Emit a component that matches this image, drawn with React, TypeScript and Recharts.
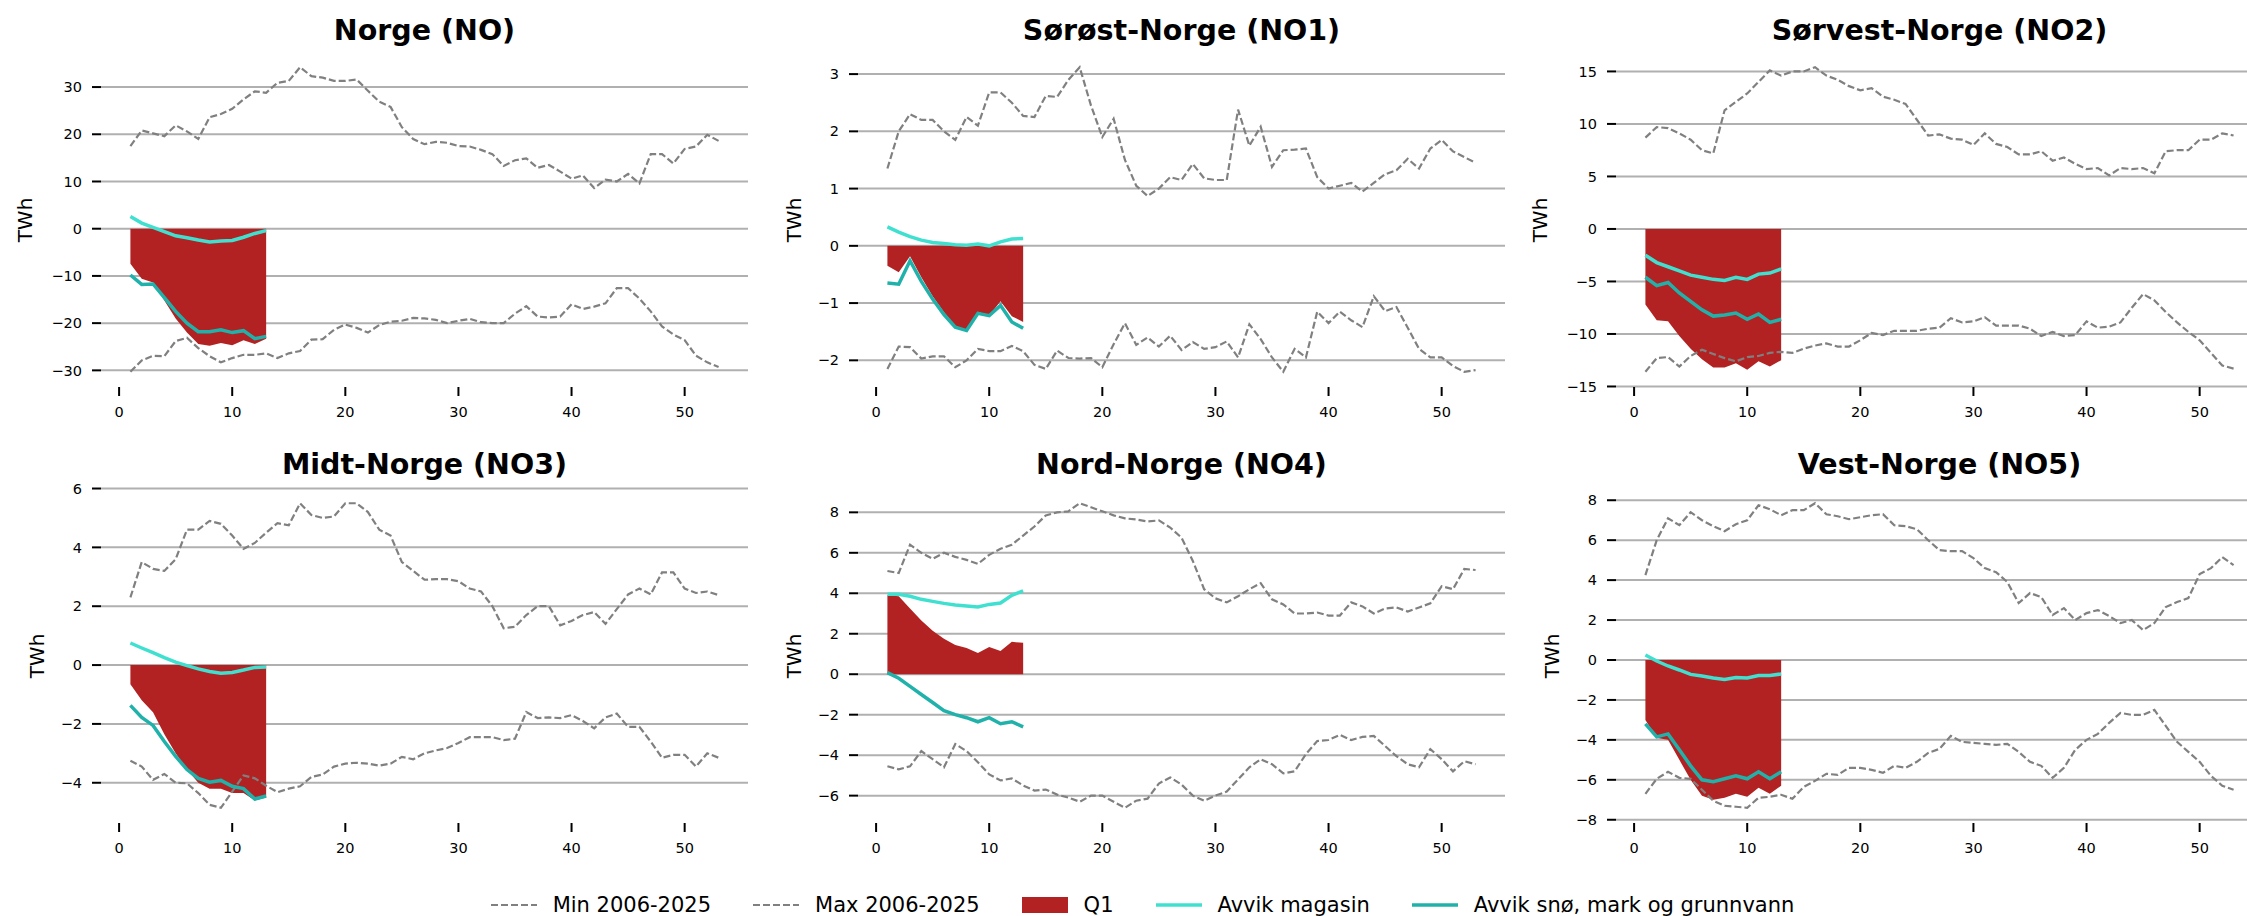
import React from 'react'
import { ComposedChart, Line, Area, XAxis, YAxis, CartesianGrid } from 'recharts'

const WEEKS = [1, 2, 3, 4, 5, 6, 7, 8, 9, 10, 11, 12, 13, 14, 15, 16, 17, 18, 19, 20, 21, 22, 23, 24, 25, 26, 27, 28, 29, 30, 31, 32, 33, 34, 35, 36, 37, 38, 39, 40, 41, 42, 43, 44, 45, 46, 47, 48, 49, 50, 51, 52, 53]
const X_TICKS = [0, 10, 20, 30, 40, 50]

// Norge (NO)
const NO_MAX = [17.5, 20.8, 20.2, 19.6, 21.9, 20.6, 19.0, 23.6, 24.3, 25.4, 27.4, 29.1, 28.8, 30.9, 31.3, 34.2, 32.3, 32.0, 31.3, 31.3, 31.6, 29.2, 26.9, 25.8, 21.5, 19.0, 17.9, 18.4, 18.2, 17.5, 17.4, 16.7, 15.8, 13.3, 14.5, 14.9, 12.9, 13.5, 12.1, 10.6, 11.3, 8.6, 10.4, 10.0, 11.6, 9.6, 15.8, 15.8, 13.8, 16.9, 17.4, 19.9, 18.6]
const NO_MIN = [-30.3, -27.9, -26.9, -27.0, -23.8, -23.1, -25.3, -27.0, -28.3, -27.4, -26.7, -26.7, -26.4, -27.4, -26.4, -25.9, -23.5, -23.4, -21.4, -20.3, -21.0, -22.0, -20.4, -19.7, -19.5, -18.9, -19.0, -19.3, -20.0, -19.5, -19.1, -19.8, -20.0, -20.0, -18.0, -16.4, -18.6, -18.8, -18.6, -16.0, -17.0, -16.5, -15.8, -12.6, -12.6, -14.8, -17.5, -20.7, -22.4, -23.6, -26.9, -28.3, -29.3]
const NO_MAG = [2.6, 1.2, 0.3, -0.6, -1.5, -1.9, -2.4, -2.8, -2.6, -2.5, -1.8, -1.0, -0.4]
const NO_SNO = [-9.8, -11.8, -11.7, -14.6, -17.5, -20.0, -21.8, -21.8, -21.4, -22.0, -21.6, -23.3, -22.8]
const NO_Q1 = [-7.4, -10.6, -11.4, -15.2, -19.0, -22.0, -24.4, -24.8, -24.2, -24.7, -23.6, -24.4, -23.3]

// Sørøst-Norge (NO1)
const NO1_MAX = [1.35, 2.0, 2.3, 2.2, 2.2, 2.0, 1.85, 2.25, 2.1, 2.68, 2.68, 2.5, 2.27, 2.25, 2.62, 2.6, 2.9, 3.12, 2.45, 1.9, 2.22, 1.5, 1.05, 0.87, 1.0, 1.2, 1.15, 1.43, 1.18, 1.15, 1.15, 2.38, 1.75, 2.08, 1.38, 1.67, 1.68, 1.7, 1.2, 1.0, 1.05, 1.1, 0.95, 1.1, 1.25, 1.32, 1.52, 1.35, 1.7, 1.85, 1.65, 1.55, 1.45]
const NO1_MIN = [-2.15, -1.76, -1.77, -1.97, -1.93, -1.93, -2.12, -2.0, -1.8, -1.84, -1.84, -1.75, -1.84, -2.08, -2.15, -1.83, -1.96, -1.97, -1.96, -2.12, -1.72, -1.35, -1.73, -1.6, -1.76, -1.57, -1.82, -1.68, -1.8, -1.77, -1.67, -1.95, -1.37, -1.63, -1.95, -2.2, -1.8, -1.95, -1.15, -1.35, -1.15, -1.3, -1.42, -0.88, -1.14, -1.07, -1.43, -1.8, -1.95, -1.95, -2.1, -2.2, -2.17]
const NO1_MAG = [0.33, 0.24, 0.16, 0.1, 0.06, 0.04, 0.02, 0.01, 0.03, 0.0, 0.07, 0.12, 0.13]
const NO1_SNO = [-0.65, -0.67, -0.26, -0.62, -0.93, -1.2, -1.42, -1.48, -1.18, -1.22, -1.04, -1.33, -1.44]
const NO1_Q1 = [-0.35, -0.46, -0.18, -0.55, -0.88, -1.16, -1.4, -1.47, -1.15, -1.22, -0.97, -1.23, -1.33]

// Sørvest-Norge (NO2)
const NO2_MAX = [8.7, 9.7, 9.6, 9.1, 8.5, 7.5, 7.2, 11.3, 12.1, 12.9, 14.0, 15.1, 14.6, 15.0, 15.0, 15.4, 14.6, 14.2, 13.6, 13.2, 13.4, 12.6, 12.3, 11.9, 10.4, 8.9, 9.0, 8.6, 8.5, 8.0, 9.1, 8.1, 7.8, 7.1, 7.1, 7.4, 6.5, 6.8, 6.2, 5.7, 5.8, 5.1, 5.8, 5.7, 5.8, 5.3, 7.4, 7.5, 7.5, 8.5, 8.5, 9.1, 8.9]
const NO2_MIN = [-13.6, -12.3, -12.2, -13.1, -12.1, -11.5, -11.9, -12.3, -12.6, -12.2, -12.1, -11.8, -11.7, -11.8, -11.4, -11.1, -10.9, -11.2, -11.2, -10.6, -9.9, -10.1, -9.7, -9.7, -9.7, -9.5, -9.4, -8.5, -8.9, -8.8, -8.4, -9.2, -9.2, -9.2, -9.5, -10.2, -9.8, -10.2, -10.1, -8.8, -9.4, -9.3, -8.9, -7.5, -6.2, -6.8, -7.9, -8.9, -9.8, -10.6, -11.8, -13.0, -13.3]
const NO2_MAG = [-2.5, -3.2, -3.6, -4.0, -4.4, -4.6, -4.8, -4.9, -4.6, -4.8, -4.3, -4.2, -3.8]
const NO2_SNO = [-4.6, -5.4, -5.1, -6.1, -6.9, -7.7, -8.3, -8.2, -8.0, -8.6, -8.1, -8.9, -8.6]
const NO2_Q1 = [-7.2, -8.7, -8.8, -10.2, -11.4, -12.4, -13.2, -13.2, -12.8, -13.4, -12.6, -13.1, -12.5]

// Midt-Norge (NO3)
const NO3_MAX = [2.3, 3.5, 3.27, 3.2, 3.6, 4.6, 4.6, 4.9, 4.8, 4.4, 3.95, 4.15, 4.5, 4.82, 4.75, 5.5, 5.1, 5.0, 5.05, 5.5, 5.5, 5.2, 4.6, 4.4, 3.5, 3.2, 2.9, 2.92, 2.92, 2.85, 2.6, 2.5, 2.0, 1.25, 1.3, 1.7, 2.0, 2.0, 1.35, 1.5, 1.7, 1.8, 1.4, 1.9, 2.4, 2.6, 2.4, 3.15, 3.15, 2.6, 2.45, 2.5, 2.38]
const NO3_MIN = [-3.25, -3.45, -3.9, -3.7, -4.0, -4.02, -4.35, -4.75, -4.85, -4.3, -3.75, -3.85, -4.1, -4.32, -4.2, -4.12, -3.8, -3.72, -3.45, -3.35, -3.32, -3.35, -3.42, -3.35, -3.12, -3.2, -3.0, -2.9, -2.82, -2.65, -2.45, -2.45, -2.45, -2.55, -2.5, -1.6, -1.8, -1.78, -1.8, -1.7, -1.9, -2.15, -1.78, -1.65, -2.1, -2.1, -2.6, -3.15, -3.05, -3.05, -3.45, -3.0, -3.15]
const NO3_MAG = [0.75, 0.58, 0.42, 0.25, 0.1, -0.02, -0.13, -0.22, -0.28, -0.25, -0.17, -0.08, -0.07]
const NO3_SNO = [-1.37, -1.78, -2.05, -2.6, -3.1, -3.55, -3.85, -3.98, -3.92, -4.12, -4.2, -4.55, -4.45]
const NO3_Q1 = [-0.65, -1.2, -1.6, -2.35, -3.0, -3.55, -4.0, -4.2, -4.2, -4.35, -4.35, -4.6, -4.5]

// Nord-Norge (NO4)
const NO4_MAX = [5.1, 5.0, 6.4, 6.0, 5.7, 6.0, 5.8, 5.65, 5.45, 5.9, 6.2, 6.4, 6.85, 7.3, 7.85, 8.0, 8.05, 8.45, 8.25, 8.05, 7.85, 7.7, 7.65, 7.55, 7.6, 7.25, 6.75, 5.6, 4.2, 3.75, 3.55, 3.85, 4.2, 4.5, 3.7, 3.45, 3.0, 3.0, 3.05, 2.9, 2.9, 3.55, 3.35, 3.0, 3.25, 3.3, 3.1, 3.3, 3.5, 4.35, 4.2, 5.2, 5.15]
const NO4_MIN = [-4.55, -4.7, -4.55, -3.8, -4.2, -4.6, -3.45, -3.8, -4.35, -4.95, -5.25, -5.15, -5.5, -5.75, -5.7, -5.95, -6.1, -6.3, -6.0, -6.0, -6.3, -6.6, -6.25, -6.15, -5.4, -5.1, -5.45, -6.0, -6.25, -6.0, -5.8, -5.2, -4.6, -4.2, -4.45, -4.9, -4.8, -3.95, -3.3, -3.25, -3.0, -3.25, -3.1, -3.05, -3.55, -4.05, -4.45, -4.6, -3.7, -4.2, -4.8, -4.3, -4.45]
const NO4_MAG = [3.95, 3.95, 3.85, 3.7, 3.6, 3.5, 3.42, 3.37, 3.32, 3.45, 3.52, 3.9, 4.12]
const NO4_SNO = [0.08, -0.2, -0.6, -1.0, -1.4, -1.8, -2.0, -2.15, -2.35, -2.15, -2.45, -2.35, -2.6]
const NO4_Q1 = [3.9, 3.85, 3.25, 2.65, 2.15, 1.75, 1.45, 1.3, 1.05, 1.35, 1.15, 1.6, 1.55]

// Vest-Norge (NO5)
const NO5_MAX = [4.25, 6.0, 7.1, 6.75, 7.4, 7.0, 6.7, 6.45, 6.8, 7.0, 7.75, 7.55, 7.25, 7.5, 7.5, 7.85, 7.3, 7.2, 7.05, 7.15, 7.25, 7.3, 6.75, 6.7, 6.55, 6.0, 5.5, 5.45, 5.45, 5.1, 4.6, 4.4, 3.9, 2.85, 3.35, 3.15, 2.25, 2.6, 2.0, 2.35, 2.5, 2.2, 1.85, 2.0, 1.5, 1.85, 2.65, 2.9, 3.1, 4.3, 4.6, 5.15, 4.75]
const NO5_MIN = [-6.7, -5.95, -5.6, -5.9, -5.95, -6.5, -7.05, -7.3, -7.35, -7.4, -6.9, -6.85, -6.75, -6.95, -6.35, -6.05, -5.7, -5.75, -5.4, -5.4, -5.5, -5.65, -5.3, -5.4, -5.1, -4.65, -4.45, -3.8, -4.1, -4.15, -4.2, -4.25, -4.2, -4.6, -5.1, -5.3, -5.9, -5.4, -4.5, -4.0, -3.7, -3.15, -2.65, -2.75, -2.75, -2.5, -3.3, -4.1, -4.6, -5.1, -5.8, -6.3, -6.5]
const NO5_MAG = [0.25, -0.05, -0.3, -0.5, -0.72, -0.8, -0.9, -0.98, -0.88, -0.9, -0.78, -0.78, -0.7]
const NO5_SNO = [-3.2, -3.85, -3.7, -4.5, -5.3, -6.0, -6.1, -5.95, -5.8, -5.95, -5.6, -5.95, -5.6]
const NO5_Q1 = [-3.0, -3.9, -4.0, -5.0, -6.0, -6.8, -7.0, -6.9, -6.7, -6.85, -6.4, -6.7, -6.3]

const GRAY = '#808080'
const RED = '#b22222'
const TURQ = '#40e0d0'
const SEA = '#20b2aa'
const FONT = '"DejaVu Sans", sans-serif'

const PLOT_W = 647
const PLOT_H = 335
const COL_X = [101, 858, 1616]
const ROW_Y = [52, 488]
const PAD_L = 100
const PAD_T = 10
const PAD_B = 50

const fmt = (v: number) => (v < 0 ? '\u2212' + Math.abs(v) : String(v))

interface PanelProps {
  title: string
  mins: number[]
  maxs: number[]
  mag: number[]
  sno: number[]
  q1: number[]
  yTicks: number[]
  col: number
  row: number
  labelOffset: number
}

function Panel({ title, mins, maxs, mag, sno, q1, yTicks, col, row, labelOffset }: PanelProps) {
  const rows = WEEKS.map((w, i) => ({
    week: w,
    min: mins[i],
    max: maxs[i],
    mag: i < mag.length ? mag[i] : null,
    sno: i < sno.length ? sno[i] : null,
    q1: i < q1.length ? q1[i] : null,
  }))
  // matplotlib-style autoscale with 5% margin
  const all = [...mins, ...maxs, ...mag, ...sno, ...q1, 0]
  const lo = Math.min(...all)
  const hi = Math.max(...all)
  const pad = (hi - lo) * 0.05

  const left = COL_X[col]
  const top = ROW_Y[row]

  return (
    <>
      <div style={{
        position: 'absolute', left, top: top - (row === 0 ? 37 : 39), width: PLOT_W, textAlign: 'center',
        fontFamily: FONT, fontWeight: 'bold', fontSize: 28.5, lineHeight: '32px', color: '#000',
      }}>
        {title}
      </div>
      <div style={{
        position: 'absolute', left: left - labelOffset - 100, top: top + PLOT_H / 2 - 12, width: 200, height: 24,
        textAlign: 'center', transform: 'rotate(-90deg)', fontFamily: FONT, fontSize: 20, lineHeight: '24px',
      }}>
        TWh
      </div>
      <div style={{ position: 'absolute', left: left - PAD_L, top: top - PAD_T }}>
        <ComposedChart
          width={PLOT_W + PAD_L + 20}
          height={PLOT_H + PAD_T + PAD_B}
          data={rows}
          margin={{ top: PAD_T, right: 20, left: 0, bottom: 0 }}
        >
          <CartesianGrid vertical={false} stroke="#b0b0b0" strokeWidth={2} syncWithTicks />
          <XAxis
            dataKey="week" type="number" domain={[-1.6, 55.6]} ticks={X_TICKS} allowDataOverflow
            axisLine={false} tickLine={{ stroke: '#000', strokeWidth: 2 }} tickSize={9} tickMargin={11}
            height={PAD_B} tick={{ fill: '#000', fontSize: 14.5, fontFamily: FONT }} interval={0}
          />
          <YAxis
            type="number" domain={[lo - pad, hi + pad]} ticks={yTicks} allowDataOverflow
            axisLine={false} tickLine={{ stroke: '#000', strokeWidth: 2 }} tickSize={9} tickMargin={10}
            width={PAD_L} tickFormatter={fmt} tick={{ fill: '#000', fontSize: 14.5, fontFamily: FONT }} interval={0}
          />
          <Area dataKey="q1" type="linear" fill={RED} fillOpacity={1} stroke="none" baseValue={0} isAnimationActive={false} />
          <Line dataKey="min" type="linear" stroke={GRAY} strokeWidth={2.2} strokeDasharray="7 3" dot={false} isAnimationActive={false} />
          <Line dataKey="max" type="linear" stroke={GRAY} strokeWidth={2.2} strokeDasharray="7 3" dot={false} isAnimationActive={false} />
          <Line dataKey="mag" type="linear" stroke={TURQ} strokeWidth={3.5} dot={false} isAnimationActive={false} />
          <Line dataKey="sno" type="linear" stroke={SEA} strokeWidth={3.5} dot={false} isAnimationActive={false} />
        </ComposedChart>
      </div>
    </>
  )
}

const LEGEND_ITEMS = [
  { label: 'Min 2006-2025', kind: 'dash', color: GRAY },
  { label: 'Max 2006-2025', kind: 'dash', color: GRAY },
  { label: 'Q1', kind: 'patch', color: RED },
  { label: 'Avvik magasin', kind: 'line', color: TURQ },
  { label: 'Avvik snø, mark og grunnvann', kind: 'line', color: SEA },
]

function Legend() {
  return (
    <div style={{
      position: 'absolute', left: 0, top: 890, width: 2247, height: 30,
      display: 'flex', justifyContent: 'center', alignItems: 'center', gap: 42,
      fontFamily: FONT, fontSize: 21, paddingLeft: 38, boxSizing: 'border-box',
    }}>
      {LEGEND_ITEMS.map((it) => (
        <div key={it.label} style={{ display: 'flex', alignItems: 'center' }}>
          <svg width={46} height={18} style={{ marginRight: 16 }}>
            {it.kind === 'patch' ? (
              <rect x={0} y={1} width={46} height={16} fill={it.color} />
            ) : (
              <line x1={0} y1={9} x2={46} y2={9} stroke={it.color}
                strokeWidth={it.kind === 'dash' ? 2.2 : 3.5} strokeDasharray={it.kind === 'dash' ? '7 3' : undefined} />
            )}
          </svg>
          <span>{it.label}</span>
        </div>
      ))}
    </div>
  )
}

export default function App() {
  return (
    <div style={{ position: 'fixed', left: 0, top: 0, width: 2247, height: 916, overflow: 'hidden', background: '#fff' }}>
      <Panel title="Norge (NO)" mins={NO_MIN} maxs={NO_MAX} mag={NO_MAG} sno={NO_SNO} q1={NO_Q1}
        yTicks={[-30, -20, -10, 0, 10, 20, 30]} col={0} row={0} labelOffset={76} />
      <Panel title="Sørøst-Norge (NO1)" mins={NO1_MIN} maxs={NO1_MAX} mag={NO1_MAG} sno={NO1_SNO} q1={NO1_Q1}
        yTicks={[-2, -1, 0, 1, 2, 3]} col={1} row={0} labelOffset={64} />
      <Panel title="Sørvest-Norge (NO2)" mins={NO2_MIN} maxs={NO2_MAX} mag={NO2_MAG} sno={NO2_SNO} q1={NO2_Q1}
        yTicks={[-15, -10, -5, 0, 5, 10, 15]} col={2} row={0} labelOffset={76} />
      <Panel title="Midt-Norge (NO3)" mins={NO3_MIN} maxs={NO3_MAX} mag={NO3_MAG} sno={NO3_SNO} q1={NO3_Q1}
        yTicks={[-4, -2, 0, 2, 4, 6]} col={0} row={1} labelOffset={64} />
      <Panel title="Nord-Norge (NO4)" mins={NO4_MIN} maxs={NO4_MAX} mag={NO4_MAG} sno={NO4_SNO} q1={NO4_Q1}
        yTicks={[-6, -4, -2, 0, 2, 4, 6, 8]} col={1} row={1} labelOffset={64} />
      <Panel title="Vest-Norge (NO5)" mins={NO5_MIN} maxs={NO5_MAX} mag={NO5_MAG} sno={NO5_SNO} q1={NO5_Q1}
        yTicks={[-8, -6, -4, -2, 0, 2, 4, 6, 8]} col={2} row={1} labelOffset={64} />
      <Legend />
    </div>
  )
}
